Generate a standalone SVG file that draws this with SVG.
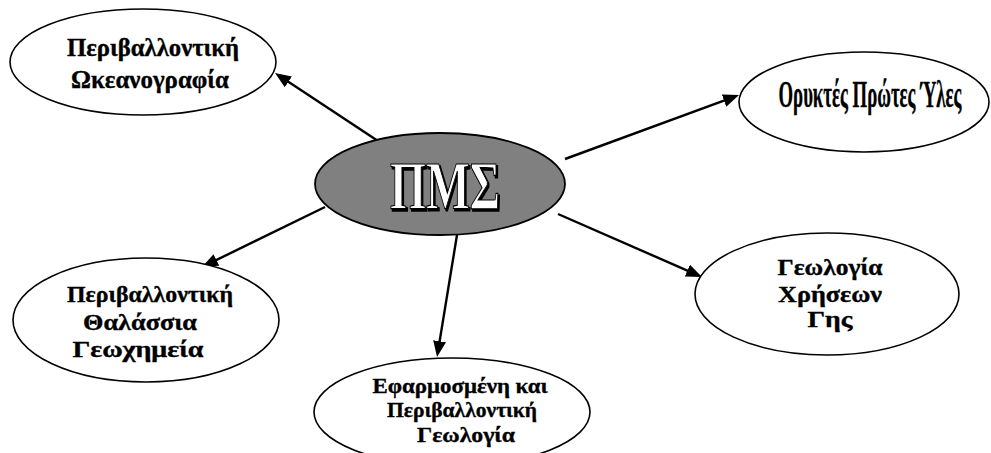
<svg xmlns="http://www.w3.org/2000/svg" width="991" height="453" viewBox="0 0 991 453">
<defs>
<marker id="ah" markerUnits="userSpaceOnUse" markerWidth="16" markerHeight="13" refX="10" refY="6.5" orient="auto">
<path d="M0,0 L16,6.5 L0,13 z" fill="#000"/>
</marker>
<style>
.node{fill:#fff;stroke:#000;stroke-width:1.6}
.hub{fill:#808080;stroke:#000;stroke-width:1.8}
.lbl{font-family:"Liberation Serif","Times New Roman",serif;font-weight:bold;fill:#000;stroke:#000;stroke-width:0.35;text-anchor:middle}
.conn{stroke:#000;stroke-width:2.4;fill:none;marker-end:url(#ah)}
.big{font-family:"Liberation Serif","Times New Roman",serif;font-weight:bold;text-anchor:middle}
</style>
</defs>
<rect width="991" height="453" fill="#fff"/>
<g id="connectors">
<line class="conn" x1="378" y1="141" x2="280" y2="76.3"/>
<line class="conn" x1="565" y1="159" x2="733.4" y2="97.1"/>
<line class="conn" x1="325" y1="207" x2="207.4" y2="264.4"/>
<line class="conn" x1="457" y1="235" x2="438" y2="351.1"/>
<line class="conn" x1="558" y1="214" x2="696.5" y2="274.6"/>
</g>
<g id="hub">
<ellipse class="hub" cx="440" cy="184" rx="125" ry="51"/>
<text class="big" x="445" y="208" font-size="68" textLength="110" lengthAdjust="spacingAndGlyphs" fill="#000" stroke="#000" stroke-width="2" transform="translate(1.5,1.5)">ΠΜΣ</text>
<text class="big" x="445" y="208" font-size="68" textLength="110" lengthAdjust="spacingAndGlyphs" fill="#fff" stroke="#000" stroke-width="1.2">ΠΜΣ</text>
</g>
<g id="node-oceanography">
<ellipse class="node" cx="143" cy="62" rx="133" ry="53"/>
<text class="lbl" font-size="25" x="153" y="56" textLength="172" lengthAdjust="spacingAndGlyphs">Περιβαλλοντική</text>
<text class="lbl" font-size="25" x="150" y="88" textLength="158" lengthAdjust="spacingAndGlyphs">Ωκεανογραφία</text>
</g>
<g id="node-minerals">
<ellipse class="node" cx="864" cy="102" rx="125" ry="50"/>
<text class="lbl" font-size="37" transform="translate(870,107) scale(0.6,1)" x="0" y="0" textLength="305" lengthAdjust="spacingAndGlyphs">Ορυκτές Πρώτες Ύλες</text>
</g>
<g id="node-geochemistry">
<ellipse class="node" cx="146" cy="320" rx="133" ry="62"/>
<text class="lbl" font-size="23" x="150" y="302" textLength="166" lengthAdjust="spacingAndGlyphs">Περιβαλλοντική</text>
<text class="lbl" font-size="23" x="140" y="330" textLength="114" lengthAdjust="spacingAndGlyphs">Θαλάσσια</text>
<text class="lbl" font-size="23" x="138" y="357" textLength="131" lengthAdjust="spacingAndGlyphs">Γεωχημεία</text>
</g>
<g id="node-applied">
<ellipse class="node" cx="452" cy="412" rx="138" ry="54"/>
<text class="lbl" font-size="22" x="460" y="393" textLength="175" lengthAdjust="spacingAndGlyphs">Εφαρμοσμένη και</text>
<text class="lbl" font-size="22" x="462" y="417" textLength="150" lengthAdjust="spacingAndGlyphs">Περιβαλλοντική</text>
<text class="lbl" font-size="22" x="466" y="442" textLength="98" lengthAdjust="spacingAndGlyphs">Γεωλογία</text>
</g>
<g id="node-landuse">
<ellipse class="node" cx="827" cy="294" rx="132" ry="61"/>
<text class="lbl" font-size="23" x="830" y="275" textLength="105" lengthAdjust="spacingAndGlyphs">Γεωλογία</text>
<text class="lbl" font-size="23" x="830" y="302" textLength="104" lengthAdjust="spacingAndGlyphs">Χρήσεων</text>
<text class="lbl" font-size="23" x="830" y="327" textLength="45" lengthAdjust="spacingAndGlyphs">Γης</text>
</g>
</svg>
